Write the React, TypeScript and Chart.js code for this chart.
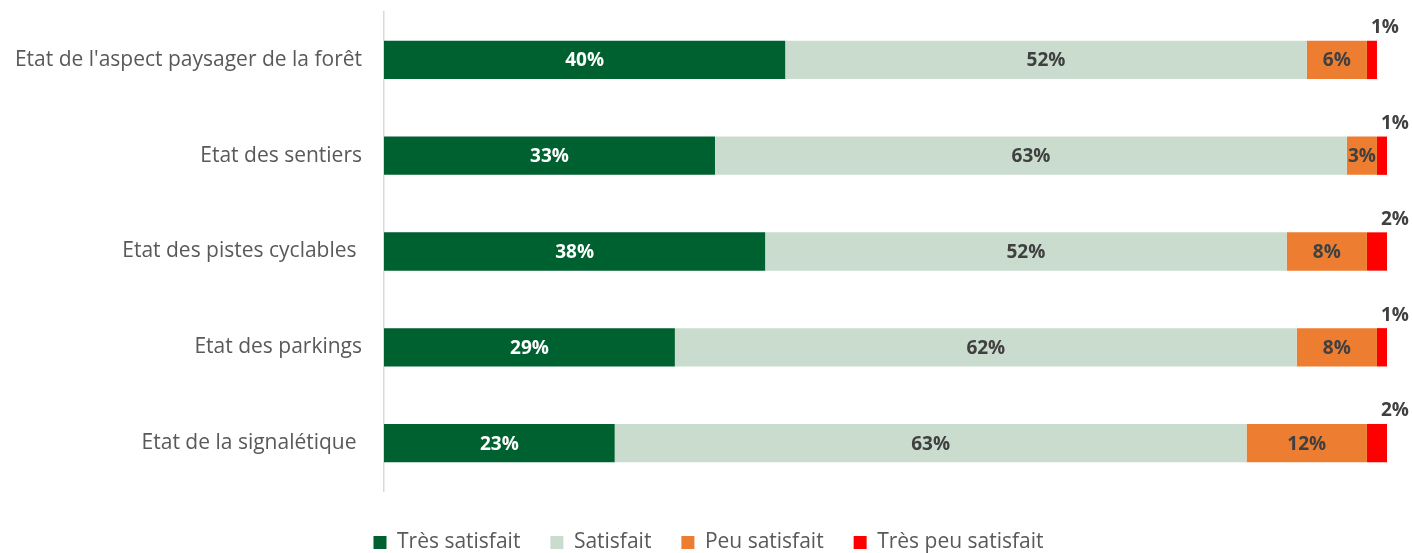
import React, { useEffect, useRef } from "react";
import { Chart, registerables } from "chart.js";

Chart.register(...registerables);

const categories = [
  "Etat de l'aspect paysager de la forêt",
  "Etat des sentiers",
  "Etat des pistes cyclables ",
  "Etat des parkings",
  "Etat de la signalétique ",
];
const seriesNames = ["Très satisfait", "Satisfait", "Peu satisfait", "Très peu satisfait"];
const tresSatisfait = [40, 33, 38, 29, 23];
const satisfait = [52, 63, 52, 62, 63];
const peuSatisfait = [6, 3, 8, 8, 12];
const tresPeuSatisfait = [1, 1, 2, 1, 2];
const colors = ["#006130", "#C9DCCE", "#ED7D31", "#FF0000"];
const labelColors = ["#FFFFFF", "#404040", "#404040", "#404040"];

const FONT = "'Open Sans', Lato, sans-serif";

const labelPlugin = {
  id: "barLabels",
  afterLayout(chart: any) {
    if (chart.legend) {
      chart.legend.left += 15;
      chart.legend.right += 15;
    }
  },
  afterDatasetsDraw(chart: any) {
    const ctx = chart.ctx;
    ctx.save();
    ctx.font = `bold 19px ${FONT}`;
    ctx.textBaseline = "middle";
    chart.data.datasets.forEach((ds: any, di: number) => {
      const meta = chart.getDatasetMeta(di);
      meta.data.forEach((bar: any, i: number) => {
        const v = ds.data[i];
        const txt = v + "%";
        ctx.fillStyle = labelColors[di];
        ctx.textAlign = "center";
        if (di === 3) {
          ctx.fillText(txt, bar.x + 8, bar.y - bar.height / 2 - 13);
        } else {
          ctx.fillText(txt, (bar.x + bar.base) / 2, bar.y + 1);
        }
      });
    });
    ctx.restore();
  },
};

export default function App() {
  const ref = useRef<HTMLCanvasElement | null>(null);
  useEffect(() => {
    if (!ref.current) return;
    const data = [tresSatisfait, satisfait, peuSatisfait, tresPeuSatisfait];
    const chart = new Chart(ref.current, {
      type: "bar",
      data: {
        labels: categories,
        datasets: seriesNames.map((n, i) => ({
          label: n,
          data: data[i],
          backgroundColor: colors[i],
          borderWidth: 0,
          barPercentage: 0.4,
          categoryPercentage: 1,
        })),
      },
      options: {
        indexAxis: "y",
        animation: false,
        responsive: false,
        layout: { padding: { top: 12, right: 25, left: 0, bottom: -10 } },
        scales: {
          x: {
            stacked: true,
            min: 0,
            max: 100,
            grid: { display: false, drawTicks: false },
            border: { display: false },
            ticks: { display: false },
            afterFit: (s: any) => {
              s.height = 11;
              s.paddingLeft = 0;
              s.paddingRight = 0;
            },
          },
          y: {
            stacked: true,
            grid: { display: false, drawTicks: false },
            border: { display: true, color: "#D9D9D9", width: 1.5 },
            ticks: {
              color: "#595959",
              font: { family: FONT, size: 21 },
              padding: 22,
            },
            afterFit: (s: any) => {
              s.width = 384;
              s.paddingTop = 0;
              s.paddingBottom = 0;
            },
          },
        },
        plugins: {
          legend: {
            position: "bottom",
            labels: {
              boxWidth: 13,
              boxHeight: 13,
              color: "#595959",
              font: { family: FONT, size: 21 },
              padding: 30,
            },
          },
          tooltip: { enabled: false },
        },
      },
      plugins: [labelPlugin],
    });
    return () => chart.destroy();
  }, []);
  return (
    <div style={{ position: "absolute", left: 0, top: 0, width: 1412, height: 553 }}>
      <canvas ref={ref} width={1412} height={553} />
    </div>
  );
}
